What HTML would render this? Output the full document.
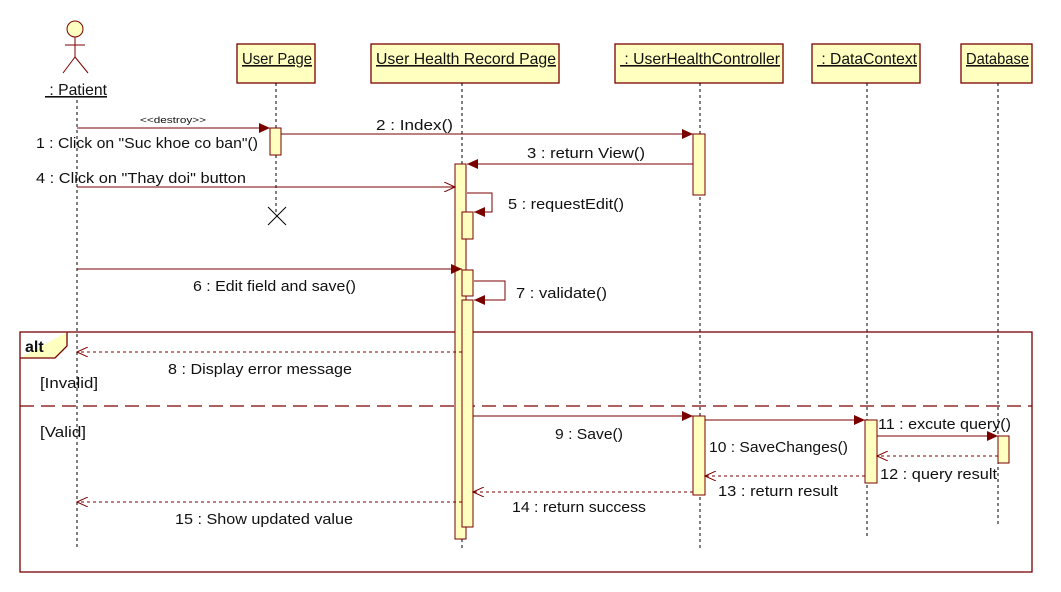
<!DOCTYPE html>
<html><head><meta charset="utf-8"><style>
html,body{margin:0;padding:0;background:#fff;}
svg{display:block;}
text{font-family:"Liberation Sans","DejaVu Sans",sans-serif;font-size:15px;fill:#111;}
.h{font-size:16px;text-decoration:underline;}
</style></head><body>
<svg width="1061" height="592" viewBox="0 0 1061 592" xmlns="http://www.w3.org/2000/svg">
<defs>
<marker id="f" markerWidth="12" markerHeight="10" refX="11" refY="5" orient="auto" markerUnits="userSpaceOnUse"><path d="M0,0 L11,5 L0,10 z" fill="#7a0000"/></marker>
<marker id="o" markerWidth="12" markerHeight="10" refX="11" refY="5" orient="auto" markerUnits="userSpaceOnUse"><path d="M0,0 L11,5 L0,10" fill="none" stroke="#7a0000"/></marker>
</defs>
<g stroke="#7a0000" fill="none">
<circle cx="75" cy="29" r="8" fill="#ffffc0"/>
<line x1="75" y1="37" x2="75" y2="57"/><line x1="65" y1="45" x2="85" y2="45"/>
<line x1="75" y1="57" x2="63" y2="73"/><line x1="75" y1="57" x2="88" y2="73"/>
</g>
<text x="45" y="95" class="h" textLength="62" lengthAdjust="spacingAndGlyphs">&#160;: Patient</text>
<g stroke="#7a0000" fill="#ffffc0" stroke-width="1.3">
<rect x="237" y="44" width="78" height="39"/>
<rect x="371" y="44" width="188" height="39"/>
<rect x="615" y="44" width="168" height="39"/>
<rect x="812" y="44" width="108" height="39"/>
<rect x="961" y="44" width="71" height="39"/>
</g>
<text x="242" y="64" class="h" textLength="70" lengthAdjust="spacingAndGlyphs">User Page</text>
<text x="376" y="64" class="h" textLength="180" lengthAdjust="spacingAndGlyphs">User Health Record Page</text>
<text x="620" y="64" class="h" textLength="160" lengthAdjust="spacingAndGlyphs">&#160;: UserHealthController</text>
<text x="817" y="64" class="h" textLength="100" lengthAdjust="spacingAndGlyphs">&#160;: DataContext</text>
<text x="966" y="64" class="h" textLength="63" lengthAdjust="spacingAndGlyphs">Database</text>
<g stroke="#000" stroke-dasharray="3,3">
<line x1="77" y1="100" x2="77" y2="549"/>
<line x1="276" y1="83" x2="276" y2="212"/>
<line x1="462" y1="83" x2="462" y2="548"/>
<line x1="700" y1="83" x2="700" y2="548"/>
<line x1="867" y1="83" x2="867" y2="537"/>
<line x1="998" y1="83" x2="998" y2="525"/>
</g>
<g stroke="#000"><line x1="268" y1="207" x2="286" y2="225"/><line x1="286" y1="207" x2="268" y2="225"/></g>
<g stroke="#7a0000" fill="none" stroke-width="1.3">
<rect x="20" y="332" width="1012" height="240"/>
<line x1="20" y1="406" x2="1032" y2="406" stroke-dasharray="14,7"/>
<path d="M20,358 L55,358 L67,346 L67,332" fill="#ffffc0"/>
</g>
<text x="25" y="352" style="font-weight:bold;font-size:16px">alt</text>
<text x="40" y="388" textLength="58" lengthAdjust="spacingAndGlyphs">[Invalid]</text>
<text x="40" y="437" textLength="46" lengthAdjust="spacingAndGlyphs">[Valid]</text>
<g stroke="#7a0000" fill="#ffffc0">
<rect x="270" y="128" width="11" height="27"/>
<rect x="693" y="134" width="12" height="61"/>
<rect x="455" y="164" width="11" height="375"/>
<rect x="462" y="212" width="11" height="27"/>
<rect x="462" y="270" width="11" height="26"/>
<rect x="462" y="300" width="11" height="227"/>
<rect x="693" y="416" width="12" height="79"/>
<rect x="865" y="420" width="12" height="63"/>
<rect x="998" y="436" width="11" height="27"/>
</g>
<g stroke="#7a0000" fill="none">
<line x1="77" y1="128" x2="270" y2="128" marker-end="url(#f)"/>
<line x1="281" y1="134" x2="693" y2="134" marker-end="url(#f)"/>
<line x1="693" y1="164" x2="467" y2="164" marker-end="url(#f)"/>
<line x1="77" y1="187" x2="455" y2="187" marker-end="url(#o)"/>
<path d="M467,193 L492,193 L492,212 L474,212" marker-end="url(#f)"/>
<line x1="77" y1="269" x2="462" y2="269" marker-end="url(#f)"/>
<path d="M474,281 L505,281 L505,300 L474,300" marker-end="url(#f)"/>
<line x1="462" y1="352" x2="77" y2="352" stroke-dasharray="3,3" marker-end="url(#o)"/>
<line x1="473" y1="416" x2="693" y2="416" marker-end="url(#f)"/>
<line x1="705" y1="420" x2="865" y2="420" marker-end="url(#f)"/>
<line x1="877" y1="436" x2="998" y2="436" marker-end="url(#f)"/>
<line x1="998" y1="456" x2="877" y2="456" stroke-dasharray="3,3" marker-end="url(#o)"/>
<line x1="865" y1="476" x2="705" y2="476" stroke-dasharray="3,3" marker-end="url(#o)"/>
<line x1="693" y1="492" x2="473" y2="492" stroke-dasharray="3,3" marker-end="url(#o)"/>
<line x1="462" y1="502" x2="77" y2="502" stroke-dasharray="3,3" marker-end="url(#o)"/>
</g>
<text x="140" y="123" style="font-size:9px" textLength="66" lengthAdjust="spacingAndGlyphs">&lt;&lt;destroy&gt;&gt;</text>
<text x="36" y="148" textLength="222" lengthAdjust="spacingAndGlyphs">1 : Click on "Suc khoe co ban"()</text>
<text x="376" y="130" textLength="77" lengthAdjust="spacingAndGlyphs">2 : Index()</text>
<text x="527" y="158" textLength="118" lengthAdjust="spacingAndGlyphs">3 : return View()</text>
<text x="36" y="183" textLength="210" lengthAdjust="spacingAndGlyphs">4 : Click on "Thay doi" button</text>
<text x="508" y="209" textLength="116" lengthAdjust="spacingAndGlyphs">5 : requestEdit()</text>
<text x="193" y="291" textLength="163" lengthAdjust="spacingAndGlyphs">6 : Edit field and save()</text>
<text x="516" y="298" textLength="91" lengthAdjust="spacingAndGlyphs">7 : validate()</text>
<text x="168" y="374" textLength="184" lengthAdjust="spacingAndGlyphs">8 : Display error message</text>
<text x="555" y="439" textLength="68" lengthAdjust="spacingAndGlyphs">9 : Save()</text>
<text x="709" y="452" textLength="139" lengthAdjust="spacingAndGlyphs">10 : SaveChanges()</text>
<text x="878" y="429" textLength="133" lengthAdjust="spacingAndGlyphs">11 : excute query()</text>
<text x="880" y="479" textLength="117" lengthAdjust="spacingAndGlyphs">12 : query result</text>
<text x="718" y="496" textLength="120" lengthAdjust="spacingAndGlyphs">13 : return result</text>
<text x="512" y="512" textLength="134" lengthAdjust="spacingAndGlyphs">14 : return success</text>
<text x="175" y="524" textLength="178" lengthAdjust="spacingAndGlyphs">15 : Show updated value</text>
</svg>
</body></html>
